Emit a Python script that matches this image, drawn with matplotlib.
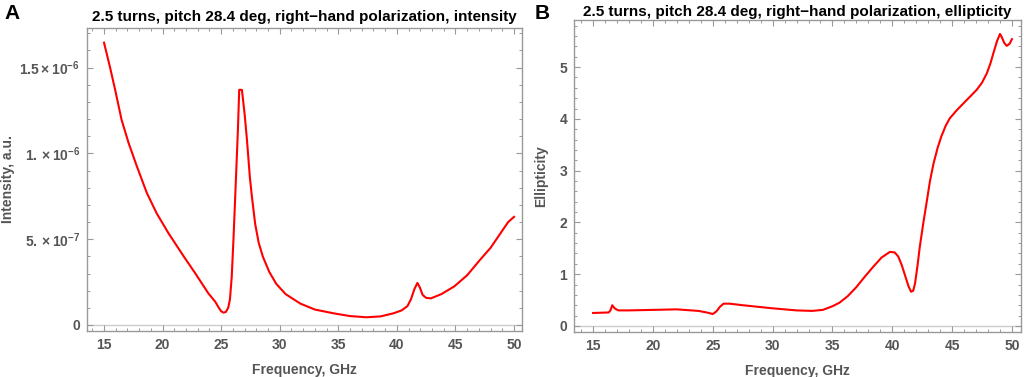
import matplotlib.pyplot as plt
import numpy as np
from matplotlib.ticker import MultipleLocator

# Panel A: intensity (in units of 1e-6 a.u.) vs frequency
freq_a = [15.0, 15.5, 15.95, 16.5, 17.1, 17.8, 18.65, 19.5, 20.5, 21.8, 22.8, 23.9,
          24.5, 24.8, 25.0, 25.2, 25.4, 25.6, 25.75, 25.9, 26.05, 26.2, 26.43,
          26.54, 26.77, 27.0, 27.2, 27.45, 27.62, 27.9, 28.2, 28.55, 29.1, 29.7,
          30.5, 31.75, 33.0, 34.6, 36.0, 37.4, 38.6, 39.7, 40.4, 40.9, 41.2,
          41.5, 41.75, 41.95, 42.2, 42.5, 42.9, 43.8, 44.9, 46.0, 47.1, 48.0,
          48.9, 49.5, 50.0]
int_a = [1.645, 1.505, 1.37, 1.195, 1.06, 0.925, 0.77, 0.65, 0.535, 0.40, 0.30,
         0.185, 0.135, 0.10, 0.08, 0.072, 0.076, 0.10, 0.15, 0.28, 0.50, 0.75,
         1.14, 1.37, 1.37, 1.23, 1.08, 0.86, 0.75, 0.59, 0.48, 0.40, 0.31,
         0.24, 0.18, 0.125, 0.09, 0.068, 0.052, 0.045, 0.05, 0.068, 0.085,
         0.11, 0.15, 0.21, 0.245, 0.22, 0.175, 0.158, 0.155, 0.18, 0.225,
         0.29, 0.38, 0.45, 0.54, 0.60, 0.63]

# Panel B: ellipticity vs frequency
freq_b = [15.0, 16.3, 16.45, 16.6, 16.8, 17.1, 18.0, 20.0, 22.0, 23.8, 24.5, 25.0,
          25.3, 25.6, 25.9, 26.4, 27.5, 30.0, 32.0, 33.3, 34.2, 35.0, 35.6, 36.3,
          37.0, 37.7, 38.4, 39.1, 39.8, 40.2, 40.5, 40.8, 41.1, 41.35, 41.57,
          41.75, 41.9, 42.1, 42.3, 42.6, 42.9, 43.15, 43.45, 43.8, 44.1, 44.45,
          44.8, 45.4, 45.95, 46.5, 47.05, 47.5, 47.9, 48.2, 48.45, 48.75, 49.0,
          49.15, 49.35, 49.56, 49.8, 50.0]
ell_b = [0.25, 0.26, 0.30, 0.40, 0.34, 0.30, 0.30, 0.31, 0.32, 0.29, 0.26, 0.23,
         0.28, 0.37, 0.43, 0.43, 0.40, 0.34, 0.30, 0.29, 0.31, 0.38, 0.45, 0.58,
         0.75, 0.95, 1.14, 1.32, 1.43, 1.42, 1.34, 1.17, 0.95, 0.77, 0.66,
         0.68, 0.82, 1.15, 1.53, 2.0, 2.43, 2.8, 3.14, 3.45, 3.66, 3.86, 4.01,
         4.17, 4.30, 4.43, 4.56, 4.70, 4.88, 5.07, 5.27, 5.50, 5.64, 5.58,
         5.47, 5.41, 5.45, 5.54]

x_ticks = [15, 20, 25, 30, 35, 40, 45, 50]
a_yticks = [0, 5e-7, 1e-6, 1.5e-6]
a_ylabels = ['0', r'$5.\times10^{-7}$', r'$1.\times10^{-6}$', r'$1.5\times10^{-6}$']
b_yticks = [0, 1, 2, 3, 4, 5]

plt.rcParams['font.family'] = 'Liberation Sans'
plt.rcParams['mathtext.fontset'] = 'custom'
plt.rcParams['mathtext.rm'] = 'Liberation Sans:bold'
plt.rcParams['mathtext.it'] = 'Liberation Sans:bold'
plt.rcParams['mathtext.bf'] = 'Liberation Sans:bold'

grey = '#555555'
frame = '#999999'

fig = plt.figure(figsize=(10.24, 3.77), dpi=100)
ax1 = fig.add_axes([0.085, 0.122, 0.425, 0.804])
ax2 = fig.add_axes([0.5605, 0.119, 0.4365, 0.828])


def style(ax):
    for s in ax.spines.values():
        s.set_color(frame)
        s.set_linewidth(1.0)
    ax.tick_params(which='both', direction='in', top=True, right=True,
                   color=frame, labelcolor=grey, labelsize=10)
    ax.tick_params(which='major', length=4, width=0.8, pad=5)
    ax.tick_params(which='minor', length=2.5, width=0.7)
    for lab in ax.get_xticklabels() + ax.get_yticklabels():
        lab.set_fontweight('bold')
    ax.axhline(0, color='#cccccc', lw=1, zorder=0)


# Panel A
ax1.plot(freq_a, np.array(int_a) * 1e-6, color='red', lw=1.5)
ax1.set_xlim(13.55, 50.7)
ax1.set_ylim(-3.5e-8, 1.731e-6)
ax1.set_xticks(x_ticks)
ax1.set_yticks(a_yticks)
ax1.set_yticklabels(a_ylabels)
ax1.xaxis.set_minor_locator(MultipleLocator(1))
ax1.yaxis.set_minor_locator(MultipleLocator(1e-7))
style(ax1)
ax1.set_xlabel('Frequency, GHz', color=grey, fontweight='bold', fontsize=10, labelpad=8)
ax1.set_ylabel('Intensity, a.u.', color=grey, fontweight='bold', fontsize=10, labelpad=3)
ax1.set_title('2.5 turns, pitch 28.4 deg, right\u2212hand polarization, intensity',
              fontweight='bold', fontsize=11, pad=5)

# Panel B
ax2.plot(freq_b, ell_b, color='red', lw=1.5)
ax2.set_xlim(13.4, 50.75)
ax2.set_ylim(-0.12, 5.91)
ax2.set_xticks(x_ticks)
ax2.set_yticks(b_yticks)
ax2.xaxis.set_minor_locator(MultipleLocator(1))
ax2.yaxis.set_minor_locator(MultipleLocator(0.2))
style(ax2)
ax2.set_xlabel('Frequency, GHz', color=grey, fontweight='bold', fontsize=10, labelpad=8)
ax2.set_ylabel('Ellipticity', color=grey, fontweight='bold', fontsize=10, labelpad=8)
ax2.set_title('2.5 turns, pitch 28.4 deg, right\u2212hand polarization, ellipticity',
              fontweight='bold', fontsize=11, pad=3)

fig.text(0.004, 0.965, 'A', fontsize=15, fontweight='bold', va='center')
fig.text(0.522, 0.965, 'B', fontsize=15, fontweight='bold', va='center')

fig.savefig('out.png', dpi=100)
